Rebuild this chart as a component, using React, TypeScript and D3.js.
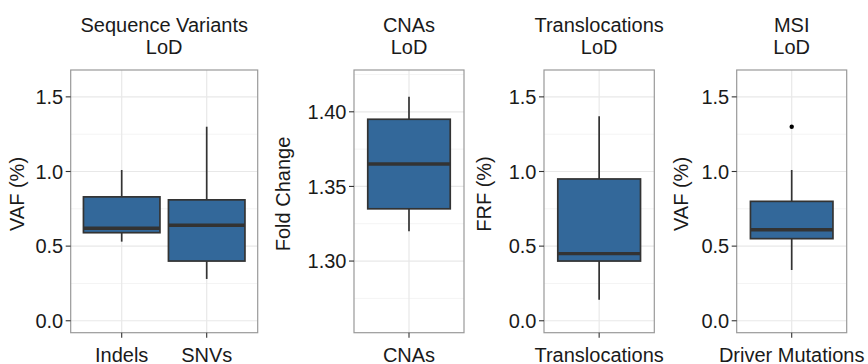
import React from "react";
import * as d3 from "d3";

// ---- data ----
const panelTitles: string[][] = [
  ["Sequence Variants", "LoD"],
  ["CNAs", "LoD"],
  ["Translocations", "LoD"],
  ["MSI", "LoD"],
];
const yTitles = ["VAF (%)", "Fold Change", "FRF (%)", "VAF (%)"];
const categories: string[][] = [["Indels", "SNVs"], ["CNAs"], ["Translocations"], ["Driver Mutations"]];
const whiskerLow: number[][] = [[0.53, 0.28], [1.32], [0.14], [0.34]];
const q1: number[][] = [[0.59, 0.4], [1.335], [0.4], [0.55]];
const medians: number[][] = [[0.62, 0.64], [1.365], [0.45], [0.61]];
const q3: number[][] = [[0.83, 0.81], [1.395], [0.95], [0.8]];
const whiskerHigh: number[][] = [[1.01, 1.3], [1.41], [1.37], [1.01]];
const outliers: number[][][] = [[[], []], [[]], [[]], [[1.3]]];
const yTicks: number[][] = [
  [0, 0.5, 1.0, 1.5],
  [1.3, 1.35, 1.4],
  [0, 0.5, 1.0, 1.5],
  [0, 0.5, 1.0, 1.5],
];
const yTickLabels: string[][] = [
  ["0.0", "0.5", "1.0", "1.5"],
  ["1.30", "1.35", "1.40"],
  ["0.0", "0.5", "1.0", "1.5"],
  ["0.0", "0.5", "1.0", "1.5"],
];
const yLimits: [number, number][] = [
  [0, 1.6],
  [1.26, 1.42],
  [0, 1.6],
  [0, 1.6],
];

// ---- layout ----
const W = 868;
const H = 364;
const TOP = 70;
const BOTTOM = 332.7;
const panelX: [number, number][] = [
  [70.7, 257.7],
  [354, 464],
  [544, 654.3],
  [736.7, 846.7],
];
const yTitleOffset = [47, 64, 53, 48.5];
const FONT = "'Liberation Sans', Arial, Helvetica, sans-serif";
const FS = 20;
const FILL = "#33689A";
const LINE = "#333333";

function Panel({ i }: { i: number }) {
  const [left, right] = panelX[i];
  const [lo, hi] = yLimits[i];
  const r = hi - lo;
  const y = d3.scaleLinear().domain([lo - 0.05 * r, hi + 0.05 * r]).range([BOTTOM, TOP]);
  const cats = categories[i];
  const x = d3.scaleLinear().domain([0.4, cats.length + 0.6]).range([left, right]);
  const ticks = yTicks[i];
  const step = ticks[1] - ticks[0];
  const [d0, d1] = y.domain();
  const minor: number[] = [];
  for (let k = -1; k < ticks.length; k++) {
    const v = ticks[0] + (k + 0.5) * step;
    if (v > d0 && v < d1) minor.push(v);
  }
  const bw = 0.9;
  const cx = (left + right) / 2;
  return (
    <g>
      {/* titles */}
      {panelTitles[i].map((t, j) => (
        <text key={j} x={cx} y={31.5 + j * 22} textAnchor="middle" fontSize={FS} fill="#1a1a1a" fontFamily={FONT}>
          {t}
        </text>
      ))}
      {/* grid */}
      {minor.map((v, j) => (
        <line key={"mn" + j} x1={left} x2={right} y1={y(v)} y2={y(v)} stroke="#f4f4f4" strokeWidth={1} />
      ))}
      {ticks.map((v, j) => (
        <line key={"mj" + j} x1={left} x2={right} y1={y(v)} y2={y(v)} stroke="#e8e8e8" strokeWidth={1.2} />
      ))}
      {cats.map((c, j) => (
        <line key={"vg" + j} x1={x(j + 1)} x2={x(j + 1)} y1={TOP} y2={BOTTOM} stroke="#e8e8e8" strokeWidth={1.2} />
      ))}
      {/* boxes */}
      {cats.map((c, j) => {
        const xc = x(j + 1);
        const x0 = x(j + 1 - bw / 2);
        const x1 = x(j + 1 + bw / 2);
        return (
          <g key={"b" + j}>
            <line x1={xc} x2={xc} y1={y(whiskerHigh[i][j])} y2={y(q3[i][j])} stroke={LINE} strokeWidth={1.7} />
            <line x1={xc} x2={xc} y1={y(q1[i][j])} y2={y(whiskerLow[i][j])} stroke={LINE} strokeWidth={1.7} />
            <rect x={x0} y={y(q3[i][j])} width={x1 - x0} height={y(q1[i][j]) - y(q3[i][j])} fill={FILL} stroke={LINE} strokeWidth={1.7} />
            <line x1={x0} x2={x1} y1={y(medians[i][j])} y2={y(medians[i][j])} stroke={LINE} strokeWidth={3.4} />
            {outliers[i][j].map((o, k) => (
              <circle key={k} cx={xc} cy={y(o)} r={2.2} fill="#000" />
            ))}
          </g>
        );
      })}
      {/* border */}
      <rect x={left} y={TOP} width={right - left} height={BOTTOM - TOP} fill="none" stroke="#999999" strokeWidth={1.2} />
      {/* y axis */}
      {ticks.map((v, j) => (
        <g key={"yt" + j}>
          <line x1={left - 5} x2={left} y1={y(v)} y2={y(v)} stroke={LINE} strokeWidth={1.1} />
          <text x={left - 7.5} y={y(v)} dy="0.36em" textAnchor="end" fontSize={FS} fill="#1a1a1a" fontFamily={FONT}>
            {yTickLabels[i][j]}
          </text>
        </g>
      ))}
      <text
        transform={`translate(${left - yTitleOffset[i]},${194}) rotate(-90)`}
        textAnchor="middle"
        fontSize={FS}
        fill="#1a1a1a"
        fontFamily={FONT}
      >
        {yTitles[i]}
      </text>
      {/* x axis */}
      {cats.map((c, j) => (
        <g key={"xt" + j}>
          <line x1={x(j + 1)} x2={x(j + 1)} y1={BOTTOM} y2={BOTTOM + 5} stroke={LINE} strokeWidth={1.1} />
          <text x={x(j + 1)} y={361.5} textAnchor="middle" fontSize={FS} fill="#1a1a1a" fontFamily={FONT}>
            {c}
          </text>
        </g>
      ))}
    </g>
  );
}

export default function App() {
  return (
    <svg width={W} height={H} style={{ position: "absolute", left: 0, top: 0, background: "#fff" }}>
      <rect x={0} y={0} width={W} height={H} fill="#fff" />
      {panelTitles.map((_, i) => (
        <Panel key={i} i={i} />
      ))}
    </svg>
  );
}
